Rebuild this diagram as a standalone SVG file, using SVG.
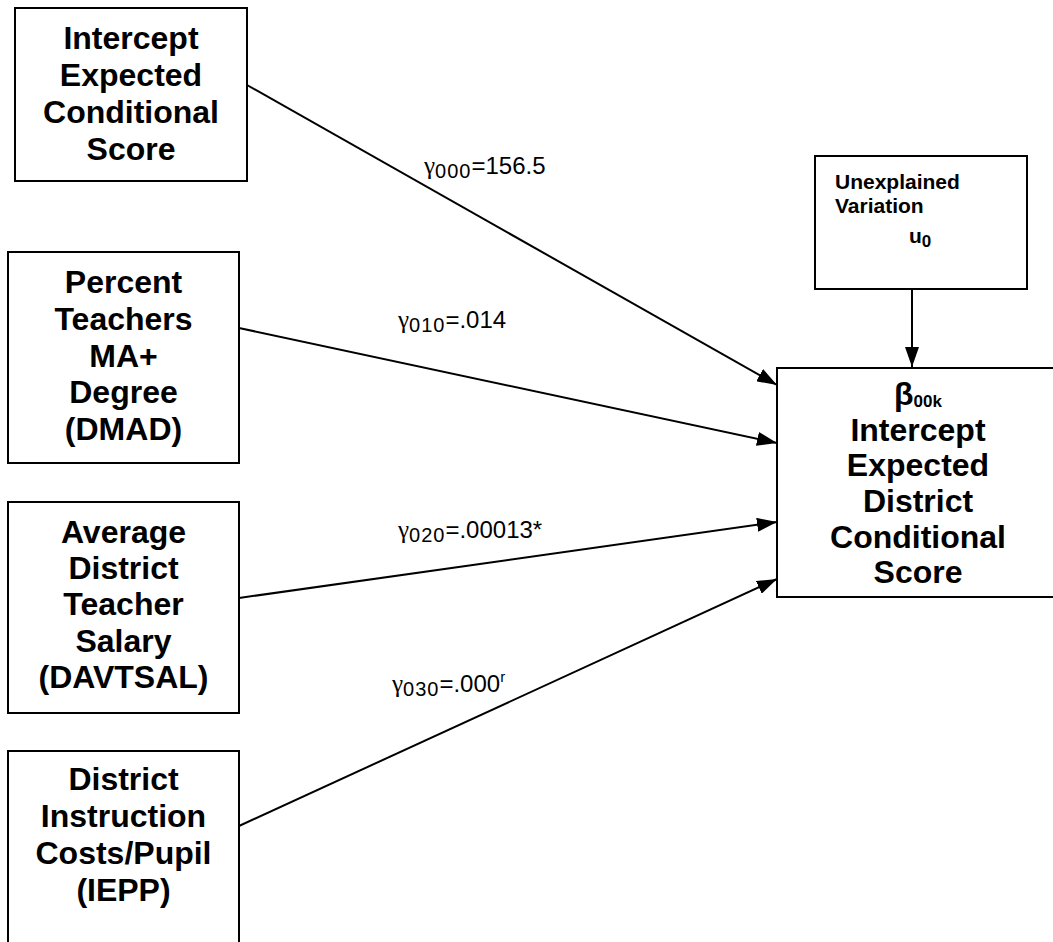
<svg xmlns="http://www.w3.org/2000/svg" width="1053" height="942" viewBox="0 0 1053 942">
<style>
.box{fill:#fff;stroke:#000;stroke-width:2}
.t{font-family:"Liberation Sans",Arial,sans-serif;font-weight:bold;font-size:32px;text-anchor:middle;fill:#000}
.s{font-family:"Liberation Sans",Arial,sans-serif;font-weight:bold;font-size:21px;fill:#000}
.lab{font-family:"Liberation Sans",Arial,sans-serif;font-size:24px;fill:#000}
.g{font-family:"Liberation Serif","Times New Roman",serif;font-size:25px}
.sub{font-size:20px;letter-spacing:1px}
.conn{stroke:#000;stroke-width:2;fill:none;marker-end:url(#ah)}
</style>
<defs>
<marker id="ah" viewBox="0 0 20 14" refX="20" refY="7" markerWidth="20" markerHeight="14" markerUnits="userSpaceOnUse" orient="auto">
<path d="M0,0 L20,7 L0,14 z" fill="#000"/>
</marker>
</defs>
<rect width="1053" height="942" fill="#fff"/>
<g id="connectors">
<line class="conn" x1="247" y1="85" x2="777" y2="385"/>
<line class="conn" x1="239" y1="328" x2="777" y2="443"/>
<line class="conn" x1="239" y1="598" x2="777" y2="522"/>
<line class="conn" x1="239" y1="826" x2="777" y2="579"/>
<line class="conn" x1="912" y1="289" x2="912" y2="367"/>
<text class="lab" x="424" y="174"><tspan class="g">γ</tspan><tspan class="sub" dy="4">000</tspan><tspan dy="-4">=156.5</tspan></text>
<text class="lab" x="398" y="328"><tspan class="g">γ</tspan><tspan class="sub" dy="4">010</tspan><tspan dy="-4">=.014</tspan></text>
<text class="lab" x="398" y="538"><tspan class="g">γ</tspan><tspan class="sub" dy="4">020</tspan><tspan dy="-4">=.00013*</tspan></text>
<text class="lab" x="392" y="692"><tspan class="g">γ</tspan><tspan class="sub" dy="4">030</tspan><tspan dy="-4">=.000</tspan><tspan font-size="15" dy="-10">r</tspan></text>
</g>
<g id="n1">
<rect class="box" x="15" y="8" width="232" height="173"/>
<text class="t" x="131" y="49">Intercept</text>
<text class="t" x="131" y="86">Expected</text>
<text class="t" x="131" y="123">Conditional</text>
<text class="t" x="131" y="160">Score</text>
</g>
<g id="n2">
<rect class="box" x="8" y="252" width="231" height="211"/>
<text class="t" x="123.5" y="293">Percent</text>
<text class="t" x="123.5" y="330">Teachers</text>
<text class="t" x="123.5" y="367">MA+</text>
<text class="t" x="123.5" y="403">Degree</text>
<text class="t" x="123.5" y="440">(DMAD)</text>
</g>
<g id="n3">
<rect class="box" x="8" y="502" width="231" height="211"/>
<text class="t" x="123.5" y="543">Average</text>
<text class="t" x="123.5" y="579">District</text>
<text class="t" x="123.5" y="615">Teacher</text>
<text class="t" x="123.5" y="652">Salary</text>
<text class="t" x="123.5" y="688">(DAVTSAL)</text>
</g>
<g id="n4">
<rect class="box" x="8" y="751" width="231" height="220"/>
<text class="t" x="123.5" y="790">District</text>
<text class="t" x="123.5" y="827">Instruction</text>
<text class="t" x="123.5" y="864">Costs/Pupil</text>
<text class="t" x="123.5" y="901">(IEPP)</text>
</g>
<g id="n5">
<rect class="box" x="815" y="156" width="212" height="133"/>
<text class="s" x="835" y="189">Unexplained</text>
<text class="s" x="835" y="213">Variation</text>
<text class="s" x="909" y="243" font-size="25">u<tspan font-size="17" dy="4">0</tspan></text>
</g>
<g id="n6">
<rect class="box" x="777" y="368" width="280" height="229"/>
<text class="t" x="918" y="405" font-size="24">β<tspan font-size="17" dy="2">00k</tspan></text>
<text class="t" x="918" y="441">Intercept</text>
<text class="t" x="918" y="476">Expected</text>
<text class="t" x="918" y="512">District</text>
<text class="t" x="918" y="548">Conditional</text>
<text class="t" x="918" y="583">Score</text>
</g>
</svg>
